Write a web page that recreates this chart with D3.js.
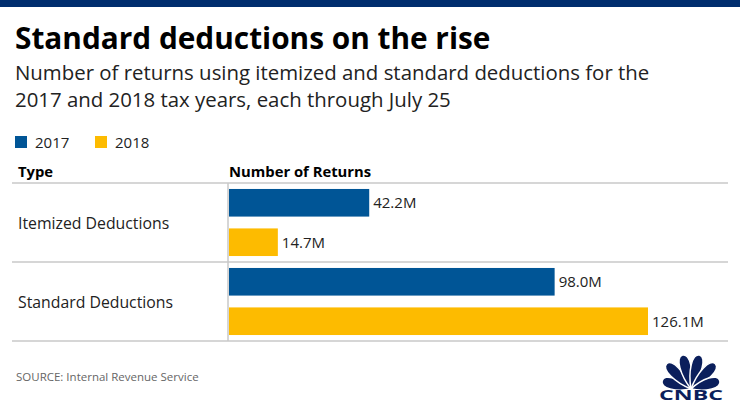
<!DOCTYPE html>
<html>
<head>
<meta charset="utf-8">
<script src="https://cdn.jsdelivr.net/npm/d3@7"></script>
<style>
  body { margin: 0; background: #fff; }
  text { font-family: "Open Sans", Lato, sans-serif; }
</style>
</head>
<body>
<svg id="chart"></svg>
<script>
// data
const categories = ['Itemized Deductions', 'Standard Deductions'];
const years = ['2017', '2018'];
const returns2017 = [42.2, 98.0];
const returns2018 = [14.7, 126.1];
const colors = ['#005596', '#fdbb00'];

const width = 740, height = 416;
const svg = d3.select('#chart').attr('width', width).attr('height', height);

// top band
svg.append('rect').attr('x', 0).attr('y', 0).attr('width', width).attr('height', 7).attr('fill', '#002d6e');

// title + subtitle
svg.append('text').attr('x', 15).attr('y', 49)
    .attr('font-size', 29.8).attr('font-weight', 'bold').attr('fill', '#000')
    .text('Standard deductions on the rise');
const sub = svg.append('text').attr('font-size', 20.4).attr('fill', '#222');
sub.append('tspan').attr('x', 15).attr('y', 80)
    .text('Number of returns using itemized and standard deductions for the');
sub.append('tspan').attr('x', 15).attr('y', 107)
    .text('2017 and 2018 tax years, each through July 25');

// legend
const legend = svg.selectAll('.legend')
    .data(years)
  .join('g')
    .attr('class', 'legend')
    .attr('transform', (d, i) => `translate(${15 + i * 80},136)`);
legend.append('rect').attr('width', 12).attr('height', 12).attr('fill', (d, i) => colors[i]);
legend.append('text').attr('x', 20).attr('y', 11.5).attr('font-size', 15).attr('fill', '#222').text(d => d);

// table layout
const tLeft = 229, tTop = 183, rowH = 79;
const x = d3.scaleLinear().domain([0, d3.max(returns2018)]).range([tLeft, 648]);
const yRow = d3.scaleBand().domain(categories).range([tTop, tTop + rowH * categories.length]);
const yBar = d3.scaleBand().domain(years).range([4, rowH - 4]).paddingInner(0.3).paddingOuter(0.05);

// headers
svg.append('text').attr('x', 18).attr('y', 177).attr('font-size', 14.8).attr('font-weight', 'bold').text('Type');
svg.append('text').attr('x', tLeft).attr('y', 177).attr('font-size', 14.8).attr('font-weight', 'bold').text('Number of Returns');

// grid lines
svg.append('line').attr('x1', 12).attr('x2', 728).attr('y1', tTop).attr('y2', tTop).attr('stroke', '#c8c8c8').attr('stroke-width', 1.5);
svg.selectAll('.rowline')
    .data(categories)
  .join('line')
    .attr('class', 'rowline')
    .attr('x1', 12).attr('x2', 728)
    .attr('y1', d => yRow(d) + rowH).attr('y2', d => yRow(d) + rowH)
    .attr('stroke', '#c8c8c8').attr('stroke-width', 1.5);
svg.append('line').attr('x1', tLeft - 1).attr('x2', tLeft - 1).attr('y1', tTop).attr('y2', tTop + rowH * 2)
    .attr('stroke', '#c8c8c8').attr('stroke-width', 1.5);

// rows
const rows = svg.selectAll('.row')
    .data(categories.map((c, i) => ({name: c, values: [returns2017[i], returns2018[i]]})))
  .join('g')
    .attr('class', 'row')
    .attr('transform', d => `translate(0,${yRow(d.name)})`);

rows.append('text')
    .attr('x', 18).attr('y', rowH / 2 + 6)
    .attr('font-size', 15.8).attr('fill', '#222')
    .text(d => d.name);

const bars = rows.selectAll('.bar')
    .data(d => d.values.map((v, i) => ({year: years[i], value: v, i: i})))
  .join('g')
    .attr('class', 'bar');

bars.append('rect')
    .attr('x', tLeft)
    .attr('y', d => yBar(d.year))
    .attr('width', d => x(d.value) - tLeft)
    .attr('height', yBar.bandwidth())
    .attr('fill', d => colors[d.i]);

bars.append('text')
    .attr('x', d => x(d.value) + 4)
    .attr('y', d => yBar(d.year) + yBar.bandwidth() / 2 + 5.5)
    .attr('font-size', 15).attr('fill', '#222')
    .text(d => d.value.toFixed(1) + 'M');

// source
svg.append('text').attr('x', 16).attr('y', 381).attr('font-size', 11.5).attr('fill', '#666')
    .text('SOURCE: Internal Revenue Service');

// CNBC logo (simplified peacock)
const navy = '#0b1f5c';
const logo = svg.append('g').attr('transform', 'translate(691,389)');
const feathers = [-74, -44, -14, 14, 44, 74];
logo.selectAll('path')
    .data(feathers)
  .join('path')
    .attr('d', d => {
      const len = Math.abs(d) > 60 ? 30 : 35;
      return `M0,0 C-7,-${len * 0.45} -8,-${len} 0,-${len} C8,-${len} 7,-${len * 0.45} 0,0Z`;
    })
    .attr('transform', d => `rotate(${d})`)
    .attr('fill', navy)
    .attr('stroke', '#fff').attr('stroke-width', 1.5);
logo.append('text').attr('x', 0).attr('y', 11).attr('text-anchor', 'middle')
    .attr('font-size', 15).attr('font-weight', 'bold').attr('font-family', '"DejaVu Sans", sans-serif')
    .attr('textLength', 64).attr('lengthAdjust', 'spacingAndGlyphs')
    .attr('fill', navy).text('CNBC');
</script>
</body>
</html>
